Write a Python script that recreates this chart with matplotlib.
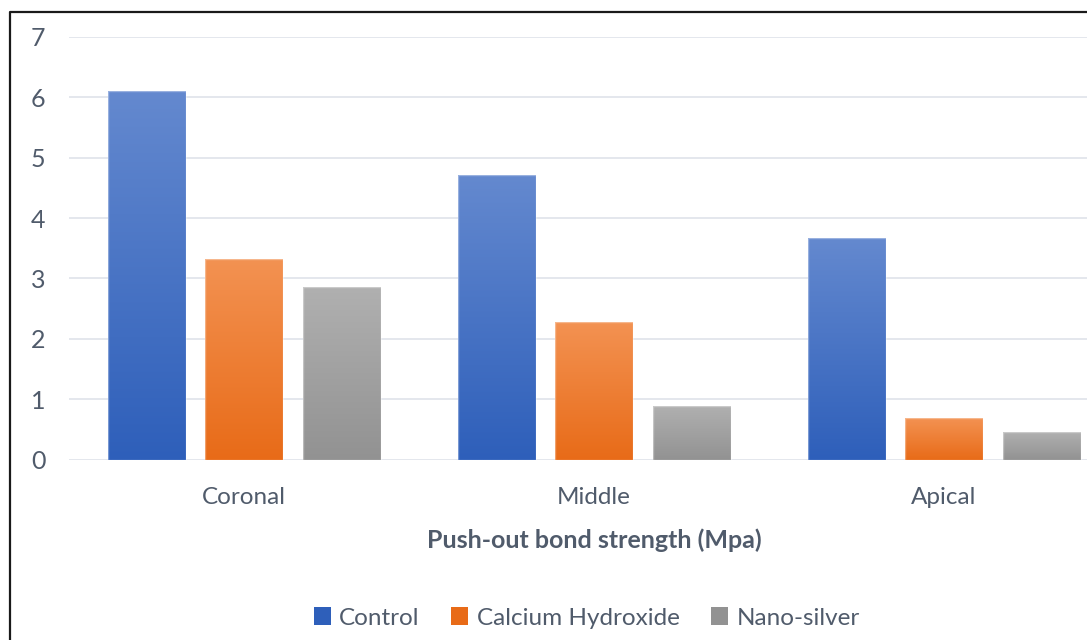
import numpy as np
import matplotlib
matplotlib.use('Agg')
import matplotlib.pyplot as plt
from matplotlib.colors import LinearSegmentedColormap
from matplotlib.patches import Patch
from matplotlib.lines import Line2D

plt.close('all')
plt.rcParams['font.family'] = ['Lato', 'DejaVu Sans']

# dados
regioes = ['Coronal', 'Middle', 'Apical']
grupos = ['Control', 'Calcium Hydroxide', 'Nano-silver']
control = [6.10, 4.71, 3.67]
calcium = [3.32, 2.28, 0.69]
nano = [2.86, 0.89, 0.46]
yticks = [0, 1, 2, 3, 4, 5, 6, 7]

# cores do gradiente (topo, base) para cada série
cores = {
    'Control': ('#6489cf', '#2e5fba'),
    'Calcium Hydroxide': ('#f39252', '#e86b18'),
    'Nano-silver': ('#b0b0b0', '#929292'),
}
texto = '#505b6b'

fig = plt.figure(figsize=(10.87, 6.4), dpi=100)
ax = fig.add_axes([69 / 1087, 1 - 459.5 / 640, 1 - 69 / 1087, (459.5 - 37) / 640])

x = np.arange(len(regioes))
passo = 97.5 / 350
largura = 78 / 350
series = [control, calcium, nano]

grad = np.linspace(1, 0, 256).reshape(-1, 1)
for i, (nome, valores) in enumerate(zip(grupos, series)):
    topo, base = cores[nome]
    cmap = LinearSegmentedColormap.from_list(nome, [base, topo])
    for xi, v in zip(x, valores):
        cx = xi + (i - 1) * passo
        ax.imshow(grad, extent=[cx - largura / 2, cx + largura / 2, 0, v],
                  aspect='auto', cmap=cmap, vmin=0, vmax=1, zorder=2,
                  interpolation='bilinear')
        ax.bar(cx, v, width=largura, facecolor='none',
               edgecolor=(1, 1, 1, 0.35), linewidth=1.0, zorder=3)

ax.set_xlim(-0.5, (1087 - 69) / 350 - 0.5)
ax.set_ylim(0, 7)
ax.set_yticks(yticks)
ax.set_xticks(x)
ax.set_xticklabels(regioes)
ax.grid(axis='y', color='#e4e7ed', linewidth=1.4, zorder=0)
ax.set_axisbelow(True)
for s in ax.spines.values():
    s.set_visible(False)
ax.tick_params(axis='both', length=0, labelcolor=texto)
ax.tick_params(axis='y', pad=17, labelsize=18)
ax.tick_params(axis='x', pad=20, labelsize=17.5)

ax.set_xlabel('Push-out bond strength (Mpa)', fontsize=18, fontweight='bold',
              color=texto)
ax.xaxis.set_label_coords((594 - 69) / (1087 - 69), (459.5 - 540) / 422.5)
ax.xaxis.label.set_va('center')

handles = [Patch(facecolor=cores[g][1], edgecolor='none') for g in grupos]
fig.legend(handles, grupos, loc='center', bbox_to_anchor=(587 / 1087, 1 - 618 / 640),
           ncol=3, frameon=False, fontsize=17.5, labelcolor=texto,
           handlelength=0.7, handleheight=0.7, handletextpad=0.35, columnspacing=1.3)

# moldura (apenas esquerda e topo visíveis no recorte)
fig.add_artist(Line2D([10 / 1087, 10 / 1087, 1.0], [0, 1 - 12 / 640, 1 - 12 / 640],
                      color='#1a1a1a', linewidth=1.6, transform=fig.transFigure))

fig.savefig('out.png', dpi=100)
